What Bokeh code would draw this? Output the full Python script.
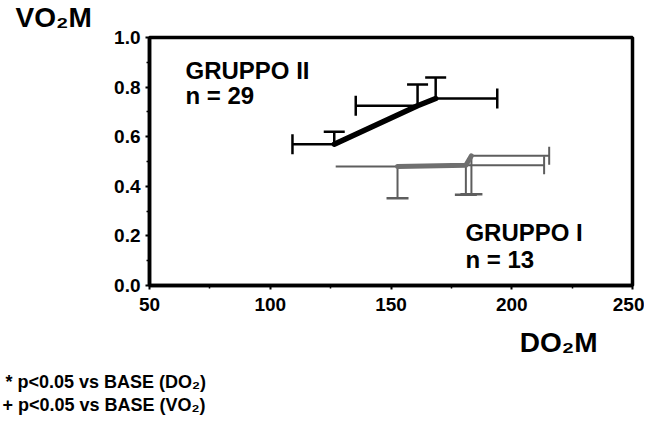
from bokeh.plotting import figure
from bokeh.models import (Range1d, Label, Whisker, TeeHead, ColumnDataSource, NumeralTickFormatter,
                          FixedTicker, Title)
from bokeh.embed import file_html
from bokeh.resources import INLINE

# ---- data ----
g2_x = [126.5, 161.0, 168.5]
g2_y = [0.57, 0.725, 0.754]
g2_y_hi = [0.62, 0.81, 0.839]
g2_x_err_end = [109.2, 135.4, 194.0]   # A,B left; C right

g1_x = [152.7, 181.0, 183.3]
g1_y = [0.48, 0.485, 0.523]
g1_y_lo = [0.352, 0.366, 0.368]
g1_x_err_end = [127.1, 213.4, 215.5]   # D left (no cap); E,F right

x_ticks = [50, 100, 150, 200, 250]
y_ticks = [0.0, 0.2, 0.4, 0.6, 0.8, 1.0]

FONT = "Liberation Sans"

p = figure(width=644, height=419, output_backend="svg", toolbar_location=None,
           x_range=Range1d(50, 250), y_range=Range1d(0, 1),
           min_border_left=149, min_border_right=12, min_border_top=37, min_border_bottom=134)
p.grid.visible = False
p.outline_line_color = "black"
p.outline_line_width = 3.5
p.outline_line_alpha = 1

for ax in (p.xaxis[0], p.yaxis[0]):
    ax.axis_line_width = 3.5
    ax.axis_line_color = "black"
    ax.major_tick_line_color = "black"
    ax.major_tick_line_width = 2
    ax.minor_tick_line_color = "black"
    ax.minor_tick_line_width = 1.5
    ax.major_tick_out = 4
    ax.major_tick_in = 0
    ax.minor_tick_out = 3
    ax.minor_tick_in = 0
    ax.major_label_text_font = FONT
    ax.major_label_text_font_style = "bold"
    ax.major_label_text_font_size = "19px"
    ax.major_label_text_color = "black"

p.xaxis.ticker = FixedTicker(ticks=x_ticks, minor_ticks=[75, 125, 175, 225])
p.yaxis.ticker = FixedTicker(ticks=y_ticks, minor_ticks=[0.1, 0.3, 0.5, 0.7, 0.9])
p.yaxis.formatter = NumeralTickFormatter(format="0.0")
p.xaxis.major_label_standoff = 8
p.yaxis.major_label_standoff = 5

# ---- Group II (black) ----
BLK = "black"
s2 = ColumnDataSource(dict(x=g2_x, y=g2_y, yhi=g2_y_hi))
p.add_layout(Whisker(source=s2, base="x", lower="y", upper="yhi", dimension="height",
                     line_color=BLK, line_width=2.5, lower_head=None,
                     upper_head=TeeHead(size=21, line_color=BLK, line_width=2.5)))
s2l = ColumnDataSource(dict(y=g2_y[:2], x=g2_x[:2], xe=g2_x_err_end[:2]))
p.add_layout(Whisker(source=s2l, base="y", lower="xe", upper="x", dimension="width",
                     line_color=BLK, line_width=2.5, upper_head=None,
                     lower_head=TeeHead(size=20, line_color=BLK, line_width=2.5)))
s2r = ColumnDataSource(dict(y=g2_y[2:], x=g2_x[2:], xe=g2_x_err_end[2:]))
p.add_layout(Whisker(source=s2r, base="y", lower="x", upper="xe", dimension="width",
                     line_color=BLK, line_width=2.5, lower_head=None,
                     upper_head=TeeHead(size=20, line_color=BLK, line_width=2.5)))
p.line(g2_x, g2_y, line_color=BLK, line_width=5.5, line_cap="round", line_join="round")

# ---- Group I (gray) ----
GRY = "#5e5e5e"
LGRY = "#6f6f6f"
s1 = ColumnDataSource(dict(x=g1_x, y=g1_y, ylo=g1_y_lo))
p.add_layout(Whisker(source=s1, base="x", lower="ylo", upper="y", dimension="height",
                     line_color=GRY, line_width=2, upper_head=None,
                     lower_head=TeeHead(size=22, line_color=GRY, line_width=2.5)))
s1l = ColumnDataSource(dict(y=g1_y[:1], x=g1_x[:1], xe=g1_x_err_end[:1]))
p.add_layout(Whisker(source=s1l, base="y", lower="xe", upper="x", dimension="width",
                     line_color=GRY, line_width=2, upper_head=None, lower_head=None))
s1r = ColumnDataSource(dict(y=g1_y[1:], x=g1_x[1:], xe=g1_x_err_end[1:]))
p.add_layout(Whisker(source=s1r, base="y", lower="x", upper="xe", dimension="width",
                     line_color=GRY, line_width=2, lower_head=None,
                     upper_head=TeeHead(size=18, line_color=GRY, line_width=2)))
p.line(g1_x, g1_y, line_color=LGRY, line_width=5, line_cap="round", line_join="round")

# ---- texts inside the frame ----
def lab(x, y, text, size):
    p.add_layout(Label(x=x, y=y, text=text, text_font=FONT, text_font_style="bold",
                       text_font_size=size, text_color="black", text_align="left",
                       text_baseline="alphabetic"))

lab(64.9, 0.866, "GRUPPO II", "24px")
lab(64.9, 0.765, "n = 29", "24px")
lab(180.8, 0.214, "GRUPPO I", "24px")
lab(180.8, 0.106, "n = 13", "24px")

# ---- texts outside the frame (titles in side panels) ----
def ttl(text, size, align, offset, standoff, side, valign="bottom"):
    t = Title(text=text, align=align, offset=offset, standoff=standoff,
              vertical_align=valign,
              text_font=FONT, text_font_style="bold", text_font_size=size,
              text_color="black")
    p.add_layout(t, side)

ttl("VO₂M", "28px", "left", -134, 3.5, "above", valign="top")
ttl("DO₂M", "28px", "right", 35, 22, "below")
ttl("* p<0.05 vs BASE (DO₂)", "18px", "left", -144, 2, "below")
ttl("+ p<0.05 vs BASE (VO₂)", "18px", "left", -147, 0, "below")

open("out.html", "w").write(file_html(p, INLINE))
